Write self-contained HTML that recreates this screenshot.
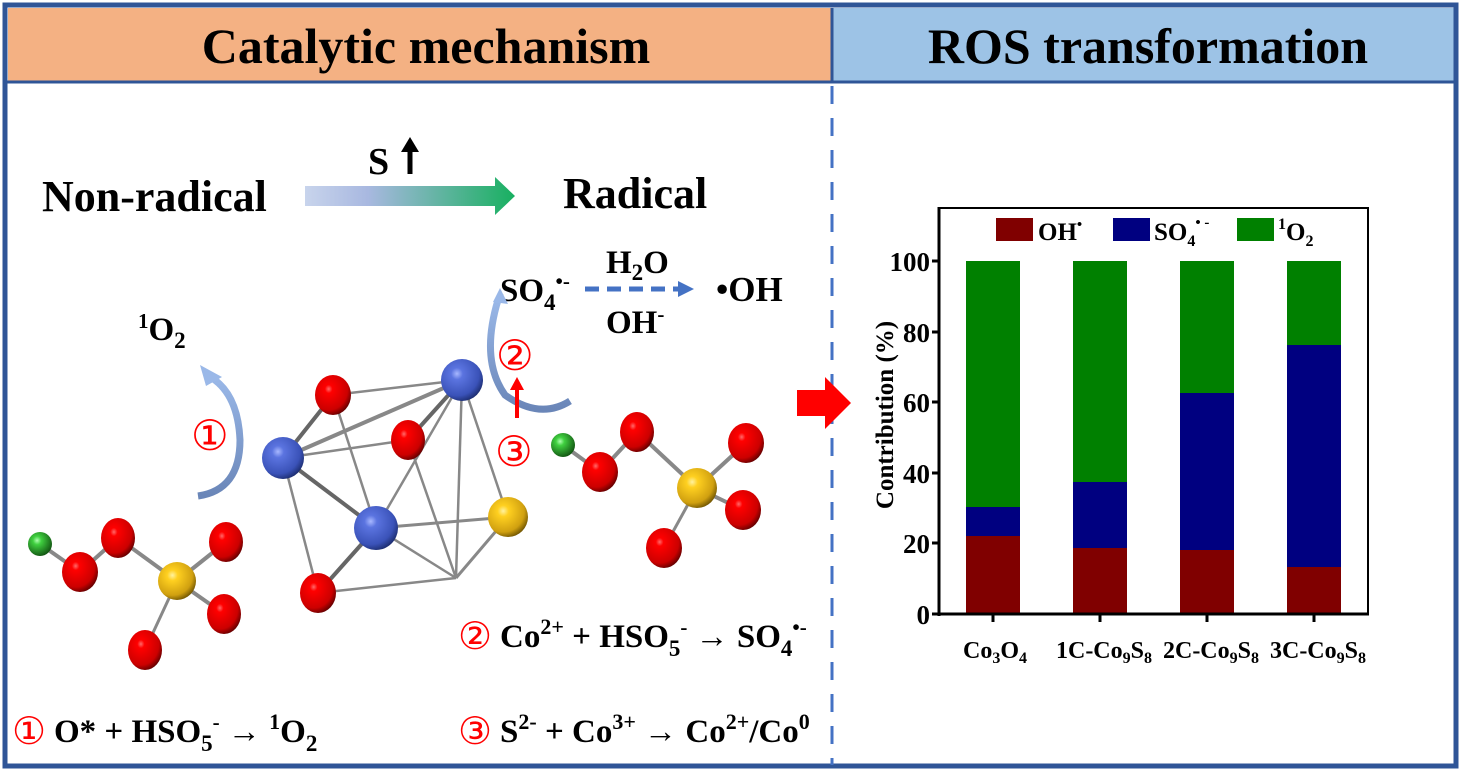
<!DOCTYPE html>
<html><head><meta charset="utf-8"><style>
html,body{margin:0;padding:0;background:#fff}
svg text{font-family:"Liberation Serif",serif;font-weight:bold;fill:#000}
.c{font-family:"DejaVu Sans",sans-serif;font-weight:normal;fill:#f00}
</style></head><body>
<svg width="1461" height="771" viewBox="0 0 1461 771" xmlns="http://www.w3.org/2000/svg">
<defs>
<radialGradient id="gr" cx="0.38" cy="0.35" r="0.7"><stop offset="0" stop-color="#ff6a6a"/><stop offset="0.15" stop-color="#f00"/><stop offset="0.75" stop-color="#c00"/><stop offset="1" stop-color="#5a0000"/></radialGradient>
<radialGradient id="gb" cx="0.38" cy="0.35" r="0.7"><stop offset="0" stop-color="#a8b8ff"/><stop offset="0.2" stop-color="#5b74e0"/><stop offset="0.75" stop-color="#3a52b8"/><stop offset="1" stop-color="#1a2a6a"/></radialGradient>
<radialGradient id="gy" cx="0.38" cy="0.35" r="0.7"><stop offset="0" stop-color="#fff2a0"/><stop offset="0.2" stop-color="#ffd020"/><stop offset="0.75" stop-color="#d0a010"/><stop offset="1" stop-color="#6a5000"/></radialGradient>
<radialGradient id="gg" cx="0.38" cy="0.35" r="0.7"><stop offset="0" stop-color="#b0ffb0"/><stop offset="0.25" stop-color="#40d040"/><stop offset="1" stop-color="#105010"/></radialGradient>
<linearGradient id="ga" x1="0" x2="1"><stop offset="0" stop-color="#c8d4ec"/><stop offset="0.3" stop-color="#a8b8e0"/><stop offset="1" stop-color="#18b060"/></linearGradient>
<linearGradient id="gc" x1="0" y1="1" x2="0" y2="0"><stop offset="0" stop-color="#6a86b8"/><stop offset="1" stop-color="#9ab8e8"/></linearGradient>
</defs>
<rect x="8" y="8" width="824" height="74" fill="#f4b183"/>
<rect x="833" y="8" width="622" height="74" fill="#9dc3e6"/>
<text x="426" y="63" font-size="50" text-anchor="middle">Catalytic mechanism</text>
<text x="1148" y="63" font-size="50" text-anchor="middle">ROS transformation</text>
<rect x="5" y="5" width="1451" height="761" fill="none" stroke="#2f5597" stroke-width="5"/>
<line x1="5" y1="82" x2="1456" y2="82" stroke="#2f5597" stroke-width="3"/>
<line x1="832" y1="8" x2="832" y2="82" stroke="#2f5597" stroke-width="3"/>
<line x1="832" y1="86" x2="832" y2="765" stroke="#4472c4" stroke-width="3" stroke-dasharray="18,14"/>

<text x="42" y="211" font-size="44">Non-radical</text>
<text x="563" y="208" font-size="44">Radical</text>
<text x="368" y="174" font-size="38">S</text>
<line x1="410" y1="174" x2="410" y2="150" stroke="#000" stroke-width="5"/>
<polygon points="401,152 410,137 419,152" fill="#000"/>
<polygon points="305,186 495,186 495,177 515,196 495,215 495,206 305,206" fill="url(#ga)"/>
<text x="500" y="301" font-size="33">SO<tspan font-size="23" dy="9">4</tspan><tspan font-size="21" dy="-22">•-</tspan></text>
<line x1="585" y1="289" x2="680" y2="289" stroke="#4472c4" stroke-width="5" stroke-dasharray="14,8"/>
<polygon points="678,281 694,289 678,297" fill="#4472c4"/>
<text x="606" y="273" font-size="33">H<tspan font-size="23" dy="7">2</tspan><tspan dy="-7">O</tspan></text>
<text x="606" y="333" font-size="33">OH<tspan font-size="21" dy="-12">-</tspan></text>
<text x="716" y="301" font-size="35">•OH</text>
<text x="138" y="340" font-size="33"><tspan font-size="21" dy="-12">1</tspan><tspan dy="12">O</tspan><tspan font-size="23" dy="8">2</tspan></text>

<path d="M198,496 Q240,490 240,440 Q238,395 212,378" fill="none" stroke="url(#gc)" stroke-width="7"/>
<polygon points="200,365 222,377 206,386" fill="#9ab8e8"/>
<path d="M570,401 Q540,420 505,395 Q480,360 498,300" fill="none" stroke="url(#gc)" stroke-width="7"/>
<polygon points="500,288 508,304 493,302" fill="#9ab8e8"/>
<text x="191" y="450" font-size="42" class="c">①</text>
<text x="496" y="370" font-size="42" class="c">②</text>
<text x="495" y="466" font-size="42" class="c">③</text>
<line x1="517" y1="418" x2="517" y2="388" stroke="#f00" stroke-width="4"/>
<polygon points="510,390 517,377 524,390" fill="#f00"/>

<g stroke="#888" stroke-width="2.5" fill="none">
<line x1="283" y1="458" x2="462" y2="380" stroke-width="4"/>
<line x1="283" y1="458" x2="333" y2="395" stroke-width="4" stroke="#666"/>
<line x1="283" y1="458" x2="408" y2="440"/>
<line x1="283" y1="458" x2="376" y2="528" stroke-width="4" stroke="#666"/>
<line x1="283" y1="458" x2="318" y2="593"/>
<line x1="333" y1="395" x2="462" y2="380"/>
<line x1="333" y1="395" x2="376" y2="528"/>
<line x1="408" y1="440" x2="462" y2="380" stroke-width="4" stroke="#666"/>
<line x1="408" y1="440" x2="456" y2="578"/>
<line x1="462" y1="380" x2="376" y2="528"/>
<line x1="462" y1="380" x2="456" y2="578"/>
<line x1="462" y1="380" x2="508" y2="517"/>
<line x1="376" y1="528" x2="508" y2="517" stroke-width="3"/>
<line x1="376" y1="528" x2="456" y2="578"/>
<line x1="376" y1="528" x2="318" y2="593" stroke-width="4" stroke="#666"/>
<line x1="318" y1="593" x2="456" y2="578"/>
<line x1="508" y1="517" x2="456" y2="578" stroke-width="3"/>
<line x1="40" y1="544" x2="80" y2="572" stroke-width="4"/>
<line x1="80" y1="572" x2="118" y2="538" stroke-width="4"/>
<line x1="118" y1="538" x2="177" y2="581" stroke-width="4"/>
<line x1="177" y1="581" x2="226" y2="542" stroke-width="4"/>
<line x1="177" y1="581" x2="224" y2="614" stroke-width="4"/>
<line x1="177" y1="581" x2="145" y2="650" stroke-width="3"/>
<line x1="563" y1="445" x2="600" y2="472" stroke-width="4"/>
<line x1="600" y1="472" x2="637" y2="432" stroke-width="4"/>
<line x1="637" y1="432" x2="697" y2="488" stroke-width="4"/>
<line x1="697" y1="488" x2="746" y2="443" stroke-width="4"/>
<line x1="697" y1="488" x2="743" y2="510" stroke-width="4"/>
<line x1="697" y1="488" x2="664" y2="548" stroke-width="3"/>
</g>
<g>
<ellipse cx="333" cy="395" rx="18" ry="20" fill="url(#gr)"/>
<ellipse cx="408" cy="440" rx="17" ry="20" fill="url(#gr)"/>
<circle cx="462" cy="380" r="21" fill="url(#gb)"/>
<circle cx="283" cy="458" r="21" fill="url(#gb)"/>
<circle cx="376" cy="528" r="22" fill="url(#gb)"/>
<circle cx="508" cy="517" r="20" fill="url(#gy)"/>
<ellipse cx="318" cy="593" rx="18" ry="20" fill="url(#gr)"/>
<circle cx="40" cy="544" r="12" fill="url(#gg)"/>
<ellipse cx="80" cy="572" rx="18" ry="20" fill="url(#gr)"/>
<ellipse cx="118" cy="538" rx="17" ry="20" fill="url(#gr)"/>
<circle cx="177" cy="581" r="19" fill="url(#gy)"/>
<ellipse cx="226" cy="542" rx="17" ry="20" fill="url(#gr)"/>
<ellipse cx="224" cy="614" rx="17" ry="20" fill="url(#gr)"/>
<ellipse cx="145" cy="650" rx="17" ry="20" fill="url(#gr)"/>
<circle cx="563" cy="445" r="12" fill="url(#gg)"/>
<ellipse cx="600" cy="472" rx="18" ry="20" fill="url(#gr)"/>
<ellipse cx="637" cy="432" rx="17" ry="20" fill="url(#gr)"/>
<circle cx="697" cy="488" r="20" fill="url(#gy)"/>
<ellipse cx="746" cy="443" rx="18" ry="20" fill="url(#gr)"/>
<ellipse cx="743" cy="510" rx="18" ry="20" fill="url(#gr)"/>
<ellipse cx="664" cy="548" rx="18" ry="20" fill="url(#gr)"/>
</g>

<text x="458" y="649" font-size="38" class="c">②</text>
<text x="500" y="647" font-size="33">Co<tspan font-size="22" dy="-13">2+</tspan><tspan dy="13"> + HSO</tspan><tspan font-size="23" dy="9">5</tspan><tspan font-size="21" dy="-22">-</tspan><tspan dy="13"> → SO</tspan><tspan font-size="23" dy="9">4</tspan><tspan font-size="21" dy="-22">•-</tspan></text>
<text x="12" y="744" font-size="38" class="c">①</text>
<text x="54" y="742" font-size="33">O* + HSO<tspan font-size="23" dy="9">5</tspan><tspan font-size="21" dy="-22">-</tspan><tspan dy="13"> → </tspan><tspan font-size="22" dy="-13">1</tspan><tspan dy="13">O</tspan><tspan font-size="23" dy="9">2</tspan></text>
<text x="458" y="744" font-size="38" class="c">③</text>
<text x="500" y="742" font-size="33">S<tspan font-size="22" dy="-13">2-</tspan><tspan dy="13"> + Co</tspan><tspan font-size="22" dy="-13">3+</tspan><tspan dy="13"> → Co</tspan><tspan font-size="22" dy="-13">2+</tspan><tspan dy="13">/Co</tspan><tspan font-size="22" dy="-13">0</tspan></text>

<polygon points="797,390 825,390 825,377 851,403 825,429 825,416 797,416" fill="#f00"/>

<g>
<rect x="966" y="261" width="54" height="246" fill="#008000"/>
<rect x="966" y="507" width="54" height="29" fill="#000080"/>
<rect x="966" y="536" width="54" height="78" fill="#800000"/>
<rect x="1073" y="261" width="54" height="221" fill="#008000"/>
<rect x="1073" y="482" width="54" height="66" fill="#000080"/>
<rect x="1073" y="548" width="54" height="66" fill="#800000"/>
<rect x="1180" y="261" width="54" height="132" fill="#008000"/>
<rect x="1180" y="393" width="54" height="157" fill="#000080"/>
<rect x="1180" y="550" width="54" height="64" fill="#800000"/>
<rect x="1287" y="261" width="54" height="84" fill="#008000"/>
<rect x="1287" y="345" width="54" height="222" fill="#000080"/>
<rect x="1287" y="567" width="54" height="47" fill="#800000"/>
</g>
<polyline points="939,208 1368,208 1368,614" fill="none" stroke="#000" stroke-width="2"/>
<line x1="939" y1="207" x2="939" y2="616" stroke="#000" stroke-width="3"/>
<line x1="932" y1="614" x2="1369" y2="614" stroke="#000" stroke-width="3"/>
<g stroke="#000" stroke-width="3">
<line x1="932" y1="261" x2="939" y2="261"/><line x1="932" y1="332" x2="939" y2="332"/>
<line x1="932" y1="402" x2="939" y2="402"/><line x1="932" y1="473" x2="939" y2="473"/>
<line x1="932" y1="543" x2="939" y2="543"/>
<line x1="993" y1="614" x2="993" y2="622"/><line x1="1100" y1="614" x2="1100" y2="622"/>
<line x1="1207" y1="614" x2="1207" y2="622"/><line x1="1314" y1="614" x2="1314" y2="622"/>
</g>
<g font-size="27" text-anchor="end">
<text x="930" y="271">100</text><text x="930" y="342">80</text><text x="930" y="412">60</text>
<text x="930" y="483">40</text><text x="930" y="553">20</text><text x="930" y="624">0</text>
</g>
<text transform="translate(893,415) rotate(-90)" font-size="25" text-anchor="middle">Contribution (%)</text>
<g font-size="24" text-anchor="middle">
<text x="995" y="658">Co<tspan font-size="16" dy="5">3</tspan><tspan dy="-5">O</tspan><tspan font-size="16" dy="5">4</tspan></text>
<text x="1104" y="658">1C-Co<tspan font-size="16" dy="5">9</tspan><tspan dy="-5">S</tspan><tspan font-size="16" dy="5">8</tspan></text>
<text x="1211" y="658">2C-Co<tspan font-size="16" dy="5">9</tspan><tspan dy="-5">S</tspan><tspan font-size="16" dy="5">8</tspan></text>
<text x="1318" y="658">3C-Co<tspan font-size="16" dy="5">9</tspan><tspan dy="-5">S</tspan><tspan font-size="16" dy="5">8</tspan></text>
</g>
<rect x="996" y="218" width="37" height="23" fill="#800000"/>
<text x="1038" y="240" font-size="25">OH<tspan font-size="15" dy="-11">•</tspan></text>
<rect x="1113" y="218" width="37" height="23" fill="#000080"/>
<text x="1154" y="240" font-size="25">SO<tspan font-size="16" dy="6">4</tspan><tspan font-size="15" dy="-19">• -</tspan></text>
<rect x="1237" y="218" width="37" height="23" fill="#008000"/>
<text x="1278" y="240" font-size="25"><tspan font-size="16" dy="-11">1</tspan><tspan dy="11">O</tspan><tspan font-size="16" dy="6">2</tspan></text>
</svg>
</body></html>
